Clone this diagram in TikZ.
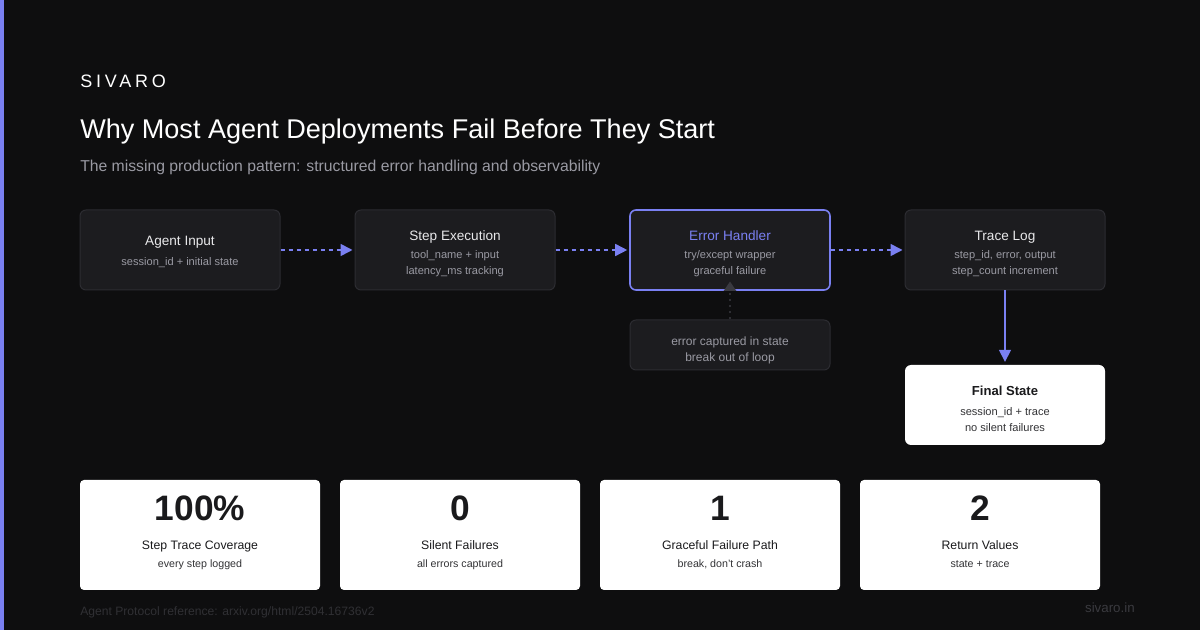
\documentclass[tikz,border=0pt]{standalone}
\usepackage{fontspec}
\setmainfont{Liberation Sans}
\usetikzlibrary{arrows.meta}

\definecolor{pagebg}{HTML}{0E0E0F}
\definecolor{accent}{HTML}{7A80F2}
\definecolor{boxfill}{HTML}{1C1C1F}
\definecolor{boxline}{HTML}{2C2C31}
\definecolor{headwhite}{HTML}{E8E8EA}
\definecolor{subgray}{HTML}{9A9AA3}
\definecolor{inkdark}{HTML}{1A1A1C}
\definecolor{inksub}{HTML}{333336}
\definecolor{footgray}{HTML}{303034}
\definecolor{sitegray}{HTML}{3A3A3F}
\definecolor{dotgray}{HTML}{2E2E33}
\definecolor{tipgray}{HTML}{3A3A40}

% box heading line, followed by the smaller detail lines
\newcommand{\boxhead}[2][headwhite]{{\fontsize{10.2}{12}\selectfont\color{#1}#2}\\[1.2pt]}

\begin{document}
\begin{tikzpicture}[x=0.75pt, y=-0.75pt,
    stepbox/.style={rectangle, draw=boxline, fill=boxfill, rounded corners=4.5pt, line width=0.75pt, minimum width=150pt, minimum height=60pt},
    notebox/.style={stepbox, minimum height=37.5pt},
    finalbox/.style={stepbox, draw=none, fill=white},
    boxtext/.style={anchor=base, inner sep=0, align=center, text=subgray, font=\fontsize{8.3}{12}\selectfont},
    statbox/.style={rectangle, fill=white, rounded corners=3pt, minimum width=180pt, minimum height=82.5pt},
    statnum/.style={anchor=base, inner sep=0, text=inkdark, font=\fontsize{26.5}{30}\selectfont\bfseries},
    statlabel/.style={anchor=base, inner sep=0, text=inkdark, font=\fontsize{9.2}{12}\selectfont},
    statsub/.style={anchor=base, inner sep=0, text=inksub, font=\fontsize{8}{10}\selectfont},
    flow/.style={-{Triangle[length=9pt, width=9pt]}, accent, line width=1.2pt, dash pattern=on 3pt off 3pt, shorten >=1.5pt},
    drop/.style={-{Triangle[length=9pt, width=9pt]}, accent, line width=1.1pt, shorten >=2pt},
    back/.style={-{Triangle[length=7pt, width=9pt, color=tipgray]}, dotgray, line width=1.5pt, dash pattern=on 2pt off 2.5pt, shorten >=-7pt}
]
% Page and accent bar
\fill[pagebg] (0,0) rectangle (1200,630);
\fill[accent] (0,0) rectangle (4,630);

% Header
\node[anchor=base west, inner sep=0, text=white, font=\fontsize{13.5}{16}\selectfont\addfontfeature{LetterSpace=21}] (brand) at (80,88) {SIVARO};
\node[anchor=base west, inner sep=0, text=white, font=\fontsize{20.3}{24}\selectfont] (title) at (80,139) {Why Most Agent Deployments Fail Before They Start};
\node[anchor=base west, inner sep=0, text=subgray, font=\fontsize{11.8}{14}\selectfont] (subtitle) at (80,172) {The missing production pattern: structured error handling and observability};

% Pipeline row (text nodes sit on the baseline of their last line)
\node[stepbox] (input) at (180,250) {};
\node[boxtext] (inputTxt) at (180,265.5) {{\fontsize{10.2}{12}\selectfont\color{headwhite}Agent Input}\\[2.7pt]session\_id + initial state};
\node[stepbox] (exec) at (455,250) {};
\node[boxtext] (execTxt) at (455,274.5) {\boxhead{Step Execution}tool\_name + input\\latency\_ms tracking};
\node[stepbox, draw=accent, line width=1.2pt] (handler) at (730,250) {};
\node[boxtext] (handlerTxt) at (730,274.5) {\boxhead[accent]{Error Handler}try/except wrapper\\graceful failure};
\node[stepbox] (trace) at (1005,250) {};
\node[boxtext] (traceTxt) at (1005,274.5) {\boxhead{Trace Log}step\_id, error, output\\step\_count increment};

\draw[flow] (input) -- (exec);
\draw[flow] (exec) -- (handler);
\draw[flow] (handler) -- (trace);

% Captured error note under the handler
\node[notebox] (note) at (730,345) {};
\node[boxtext, font=\fontsize{9}{12}\selectfont] (noteTxt) at (730,362) {error captured in state\\break out of loop};
\draw[back] (note.north) -- (handler.south);

% Final state
\node[finalbox] (final) at (1005,405) {};
\node[boxtext, text=inksub] (finalTxt) at (1005,431.5) {{\fontsize{9.8}{12}\selectfont\bfseries\color{inkdark}Final State}\\[3pt]session\_id + trace\\no silent failures};
\draw[drop] (trace.south) -- (final.north);

% Stats row
\node[statbox] (cov) at (200,535) {};
\node[statnum] (covN) at (200,521) {100\%};
\node[statlabel] (covL) at (200,550) {Step Trace Coverage};
\node[statsub] (covS) at (200,568) {every step logged};

\node[statbox] (silent) at (460,535) {};
\node[statnum] (silentN) at (460,521) {0};
\node[statlabel] (silentL) at (460,550) {Silent Failures};
\node[statsub] (silentS) at (460,568) {all errors captured};

\node[statbox] (grace) at (720,535) {};
\node[statnum] (graceN) at (720,521) {1};
\node[statlabel] (graceL) at (720,550) {Graceful Failure Path};
\node[statsub] (graceS) at (720,568) {break, don't crash};

\node[statbox] (ret) at (980,535) {};
\node[statnum] (retN) at (980,521) {2};
\node[statlabel] (retL) at (980,550) {Return Values};
\node[statsub] (retS) at (980,568) {state + trace};

% Footer
\node[anchor=base west, inner sep=0, text=footgray, font=\fontsize{9.1}{11}\selectfont] (ref) at (80,615) {Agent Protocol reference: arxiv.org/html/2504.16736v2};
\node[anchor=base east, inner sep=0, text=sitegray, font=\fontsize{10}{12}\selectfont] (site) at (1135,613) {sivaro.in};
\end{tikzpicture}
\end{document}
